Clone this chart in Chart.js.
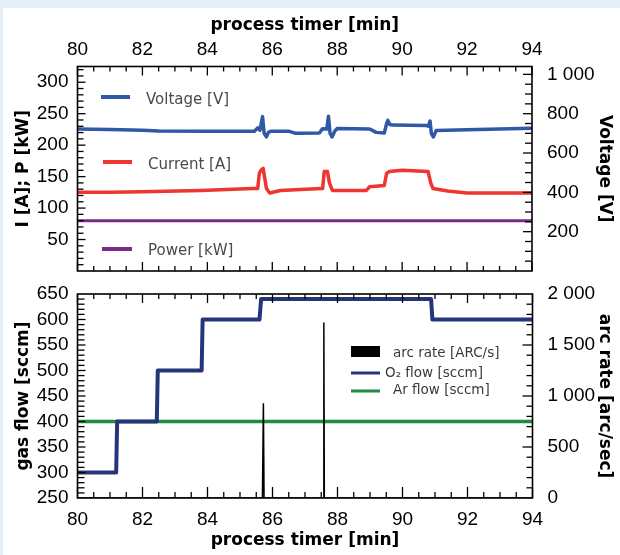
<!DOCTYPE html>
<html>
<head>
<meta charset="utf-8">
<script src="https://cdn.jsdelivr.net/npm/chart.js@4.4.0/dist/chart.umd.min.js"></script>
<style>
  html, body { margin: 0; padding: 0; }
  body { width: 620px; height: 555px; background: #e4eef7; position: relative; overflow: hidden; }
  #panel { position: absolute; left: 3px; top: 8px; right: 0; bottom: 0; background: #fff; }
  canvas { position: absolute; left: 0; }
  #topChart { top: 0; }
  #bottomChart { top: 283px; }
</style>
</head>
<body>
<div id="panel"></div>
<canvas id="topChart" width="620" height="283"></canvas>
<canvas id="bottomChart" width="620" height="272"></canvas>
<script>
// ---- data ----
// top panel: electrical values vs process timer [min]
const voltageTime = [80, 81, 82, 82.5, 84, 85.45, 85.55, 85.62, 85.7, 85.75, 85.82, 85.88, 85.95, 86.5, 86.7, 87.45, 87.55, 87.68, 87.73, 87.78, 87.84, 87.92, 88.0, 89.0, 89.2, 89.45, 89.52, 89.56, 89.62, 89.7, 90.75, 90.8, 90.86, 90.9, 90.96, 91.05, 92, 93, 94];
const voltage     = [722, 720, 716, 712, 711, 711, 728, 716, 785, 700, 682, 705, 711, 711, 701, 702, 724, 722, 787, 700, 682, 710, 725, 722, 705, 702, 748, 766, 745, 742, 740, 736, 762, 700, 682, 714, 718, 722, 726];

const currentTime = [80, 81, 82, 83.8, 85.4, 85.55, 85.6, 85.65, 85.72, 85.76, 85.82, 85.92, 86.25, 87.5, 87.55, 87.6, 87.7, 87.76, 87.85, 88.9, 89.0, 89.45, 89.52, 89.6, 90.0, 90.8, 90.88, 90.95, 91.4, 92, 94];
const current     = [125, 125, 126, 128, 131, 131, 155, 160, 163, 150, 131, 124, 128, 131, 131, 158, 158, 140, 128, 128, 134, 136, 155, 158, 160, 158, 140, 131, 127, 124, 124];

const powerTime = [80, 94];
const power     = [80, 80];

// bottom panel: gas flows and arc rate
const o2Time = [80, 81.19, 81.22, 82.44, 82.47, 83.82, 83.85, 85.6, 85.65, 90.88, 90.92, 94];
const o2Flow = [300, 300, 400, 400, 500, 500, 600, 600, 640, 640, 600, 600];

const arTime = [80, 94];
const arFlow = [400, 400];

const arcTime = [80, 85.69, 85.72, 85.74, 87.565, 87.58, 87.595, 94];
const arcRate = [0, 0, 930, 0, 0, 1720, 0, 0];

// tick labels
const timeTicks    = [80, 82, 84, 86, 88, 90, 92, 94];
const currentTicks = [50, 100, 150, 200, 250, 300];
const voltageTicks = [200, 400, 600, 800, 1000];
const flowTicks    = [250, 300, 350, 400, 450, 500, 550, 600, 650];
const arcTicks     = [0, 500, 1000, 1500, 2000];

// ---- helpers ----
const pts = (xs, ys) => xs.map((x, i) => ({ x: x, y: ys[i] }));
const spaced = v => String(v).replace(/\B(?=(\d{3})+(?!\d))/g, ' ');

const TICK_FONT = { family: 'Liberation Sans', size: 19 };
const TITLE_FONT = { family: 'DejaVu Sans', size: 17, weight: 'bold' };

// inward tick marks + frame around the plot area
const frameTicks = {
    id: 'frameTicks',
    afterDatasetsDraw(chart, args, opts) {
        const { ctx, chartArea: a } = chart;
        ctx.save();
        ctx.strokeStyle = '#000';
        ctx.lineWidth = 1.3;
        opts.sides.forEach(s => {
            const scale = chart.scales[s.scale];
            const n = Math.round((s.max - s.min) / s.minor);
            for (let i = 0; i <= n; i++) {
                const v = s.min + i * s.minor;
                const r = v / s.major;
                const len = Math.abs(r - Math.round(r)) < 1e-6 ? s.majorLen : s.minorLen;
                const p = scale.getPixelForValue(v);
                ctx.beginPath();
                if (s.edge === 'top') { ctx.moveTo(p, a.top); ctx.lineTo(p, a.top + len); }
                if (s.edge === 'bottom') { ctx.moveTo(p, a.bottom); ctx.lineTo(p, a.bottom - len); }
                if (s.edge === 'left') { ctx.moveTo(a.left, p); ctx.lineTo(a.left + len, p); }
                if (s.edge === 'right') { ctx.moveTo(a.right, p); ctx.lineTo(a.right - len, p); }
                ctx.stroke();
            }
        });
        ctx.lineWidth = 1.6;
        ctx.strokeRect(a.left, a.top, a.right - a.left, a.bottom - a.top);
        ctx.restore();
    }
};

// legend drawn inside the plot area, entries placed freely
const inlineLegend = {
    id: 'inlineLegend',
    afterDraw(chart, args, opts) {
        const ctx = chart.ctx;
        ctx.save();
        ctx.font = opts.font;
        ctx.textBaseline = 'middle';
        opts.items.forEach(it => {
            const ds = chart.data.datasets[it.ds];
            if (it.box) {
                ctx.fillStyle = ds.borderColor;
                ctx.fillRect(it.x0, it.y - it.box / 2, it.x1 - it.x0, it.box);
            } else {
                ctx.strokeStyle = ds.borderColor;
                ctx.lineWidth = it.lw;
                ctx.beginPath();
                ctx.moveTo(it.x0, it.y);
                ctx.lineTo(it.x1, it.y);
                ctx.stroke();
            }
            ctx.fillStyle = opts.color;
            ctx.fillText(ds.label, it.tx, it.ty);
        });
        ctx.restore();
    }
};

function lineSet(label, data, color, width, axis) {
    return {
        label: label,
        data: data,
        borderColor: color,
        backgroundColor: color,
        borderWidth: width,
        pointRadius: 0,
        tension: 0,
        borderJoinStyle: 'round',
        yAxisID: axis
    };
}

// fixed axis size, no extra label overhang padding
function fixSize(s, key, size) {
    s[key] = size;
    s.paddingTop = 0;
    s.paddingBottom = 0;
    s.paddingLeft = 0;
    s.paddingRight = 0;
}

function xAxis(position, titlePad, tickPad, height) {
    return {
        type: 'linear',
        position: position,
        min: timeTicks[0],
        max: timeTicks[timeTicks.length - 1],
        afterBuildTicks: s => { s.ticks = timeTicks.map(v => ({ value: v })); },
        ticks: { font: TICK_FONT, color: '#000', padding: tickPad, maxRotation: 0, autoSkip: false },
        grid: { display: false, drawTicks: false },
        border: { display: false },
        title: { display: true, text: 'process timer [min]', font: TITLE_FONT, color: '#000', padding: titlePad },
        afterFit: s => fixSize(s, 'height', height)
    };
}

function yAxis(position, min, max, tickList, title, titlePad, tickPad, width) {
    return {
        type: 'linear',
        position: position,
        min: min,
        max: max,
        afterBuildTicks: s => { s.ticks = tickList.map(v => ({ value: v })); },
        ticks: {
            font: TICK_FONT,
            color: '#000',
            padding: tickPad,
            autoSkip: false,
            callback: v => spaced(v)
        },
        grid: { display: false, drawTicks: false },
        border: { display: false },
        title: { display: true, text: title, font: TITLE_FONT, color: '#000', padding: titlePad },
        afterFit: s => fixSize(s, 'width', width)
    };
}

// ---- top panel ----
new Chart(document.getElementById('topChart'), {
    type: 'line',
    data: {
        datasets: [
            lineSet('Voltage [V]', pts(voltageTime, voltage), '#2f58a6', 3.5, 'y1'),
            lineSet('Current [A]', pts(currentTime, current), '#ee3530', 3.5, 'y'),
            lineSet('Power [kW]', pts(powerTime, power), '#7a2b8c', 3, 'y')
        ]
    },
    options: {
        responsive: false,
        animation: false,
        devicePixelRatio: 1,
        layout: { padding: { left: 0, right: 0, top: 0, bottom: 12 } },
        plugins: {
            legend: { display: false },
            tooltip: { enabled: false },
            frameTicks: {
                sides: [
                    { scale: 'x', edge: 'top', min: 80, max: 94, minor: 0.5, major: 2, minorLen: 5, majorLen: 9 },
                    { scale: 'x', edge: 'bottom', min: 80, max: 94, minor: 0.5, major: 2, minorLen: 5, majorLen: 9 },
                    { scale: 'y', edge: 'left', min: 10, max: 320, minor: 10, major: 50, minorLen: 6, majorLen: 8 },
                    { scale: 'y1', edge: 'right', min: 50, max: 1000, minor: 50, major: 200, minorLen: 7, majorLen: 9 }
                ]
            },
            inlineLegend: {
                font: '15px "DejaVu Sans"',
                color: '#4a4a4a',
                items: [
                    { ds: 0, x0: 101, x1: 130, y: 97, lw: 4, tx: 146, ty: 100 },
                    { ds: 1, x0: 103, x1: 132, y: 162, lw: 4, tx: 148, ty: 165 },
                    { ds: 2, x0: 102, x1: 132, y: 249, lw: 4, tx: 148, ty: 251 }
                ]
            }
        },
        scales: {
            x: xAxis('top', { top: 15, bottom: 0 }, 5, 66.5),
            y: yAxis('left', 0, 325, currentTicks, 'I [A]; P [kW]', { top: 13, bottom: 0 }, 9, 77.5),
            y1: yAxis('right', 0, 1040, voltageTicks, 'Voltage [V]', { top: 5, bottom: 0 }, 15, 88)
        }
    },
    plugins: [frameTicks, inlineLegend]
});

// ---- bottom panel ----
new Chart(document.getElementById('bottomChart'), {
    type: 'line',
    data: {
        datasets: [
            Object.assign(lineSet('arc rate [ARC/s]', pts(arcTime, arcRate), '#000000', 1.5, 'y1'), { borderJoinStyle: 'bevel' }),
            lineSet('O\u2082 flow [sccm]', pts(o2Time, o2Flow), '#26357a', 4, 'y'),
            lineSet('Ar flow [sccm]', pts(arTime, arFlow), '#1f8c3f', 3.5, 'y')
        ]
    },
    options: {
        responsive: false,
        animation: false,
        devicePixelRatio: 1,
        layout: { padding: { left: 0, right: 0, top: 11, bottom: 0 } },
        plugins: {
            legend: { display: false },
            tooltip: { enabled: false },
            frameTicks: {
                sides: [
                    { scale: 'x', edge: 'top', min: 80, max: 94, minor: 0.5, major: 2, minorLen: 5, majorLen: 9 },
                    { scale: 'x', edge: 'bottom', min: 80, max: 94, minor: 0.5, major: 2, minorLen: 6, majorLen: 11 },
                    { scale: 'y', edge: 'left', min: 260, max: 640, minor: 10, major: 50, minorLen: 7, majorLen: 8 },
                    { scale: 'y1', edge: 'right', min: 100, max: 1900, minor: 100, major: 500, minorLen: 6, majorLen: 10 }
                ]
            },
            inlineLegend: {
                font: '13.5px "DejaVu Sans"',
                color: '#3a3a3a',
                items: [
                    { ds: 0, x0: 351, x1: 380, y: 68.5, box: 11, tx: 393, ty: 70 },
                    { ds: 1, x0: 351, x1: 380, y: 90, lw: 3, tx: 385, ty: 90 },
                    { ds: 2, x0: 351, x1: 380, y: 108, lw: 3, tx: 393, ty: 107 }
                ]
            }
        },
        scales: {
            x: xAxis('bottom', { top: 0, bottom: 4 }, 10, 57),
            y: yAxis('left', 250, 650, flowTicks, 'gas flow [sccm]', { top: 13, bottom: 0 }, 9, 77.5),
            y1: yAxis('right', 0, 2000, arcTicks, 'arc rate [arc/sec]', { top: 5, bottom: 0 }, 15, 87.5)
        }
    },
    plugins: [frameTicks, inlineLegend]
});
</script>
</body>
</html>
